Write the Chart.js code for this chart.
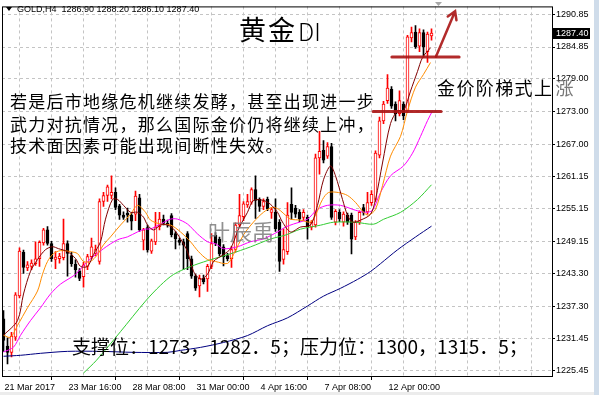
<!DOCTYPE html>
<html lang="zh">
<head>
<meta charset="UTF-8">
<title>GOLD,H4</title>
<script src="https://cdn.jsdelivr.net/npm/chart.js@4.4.0/dist/chart.umd.min.js"></script>
<style>
  html, body { margin: 0; padding: 0; background: #fff; }
  #wrap { position: relative; width: 599px; height: 395px; }
</style>
</head>
<body>
<div id="wrap"><canvas id="chart"></canvas></div>
<script>
// H4 bars, index 0 = 21 Mar 2017 00:00
const openP = [1235.0,1230.0,1228.8,1231.6,1239.2,1247.2,1244.3,1244.6,1245.1,1246.0,
  1248.9,1251.3,1248.8,1245.9,1246.0,1246.2,1248.8,1246.6,1245.0,1243.8,
  1242.7,1244.6,1246.4,1247.0,1245.5,1256.5,1257.6,1257.6,1258.2,1255.7,
  1254.0,1254.4,1254.0,1254.2,1257.2,1249.4,1251.7,1247.4,1249.1,1251.9,
  1253.3,1252.5,1253.9,1250.6,1249.4,1249.1,1250.6,1246.0,1242.8,1241.0,
  1242.4,1242.3,1244.6,1250.3,1249.6,1248.2,1246.6,1246.0,1247.7,1252.2,
  1253.7,1255.9,1256.4,1258.7,1256.9,1255.6,1256.9,1254.5,1254.5,1252.7,
  1245.9,1247.3,1256.0,1255.3,1254.5,1253.6,1253.6,1251.8,1252.2,1264.5,
  1265.9,1264.8,1266.6,1252.7,1254.5,1252.7,1254.0,1254.0,1250.0,1252.7,
  1255.4,1254.6,1256.3,1256.9,1265.0,1271.3,1275.0,1277.1,1274.4,1272.6,
  1274.4,1273.1,1286.5,1287.6,1285.0,1287.5,1284.0,1286.9];
const highP = [1236.5,1231.5,1232.5,1239.8,1248.0,1247.6,1245.5,1245.8,1249.1,1249.3,
  1251.6,1251.9,1249.2,1247.3,1247.0,1253.3,1249.3,1247.2,1245.8,1244.2,
  1245.4,1246.8,1249.8,1248.5,1257.0,1258.2,1259.5,1261.2,1259.0,1256.0,
  1254.6,1255.3,1254.4,1258.4,1257.8,1251.6,1252.2,1249.6,1254.5,1254.5,
  1254.0,1253.1,1254.3,1251.0,1249.8,1249.6,1251.0,1246.5,1243.2,1243.0,
  1243.0,1245.0,1250.6,1250.8,1250.0,1248.6,1247.0,1248.3,1252.6,1257.8,
  1256.5,1257.8,1259.0,1261.2,1257.2,1257.0,1257.3,1255.4,1257.0,1253.2,
  1251.5,1256.3,1259.0,1255.8,1255.0,1255.0,1254.0,1253.0,1265.2,1269.4,
  1267.7,1267.3,1267.2,1255.0,1255.0,1254.6,1254.4,1254.4,1253.0,1254.8,
  1256.0,1258.2,1258.5,1265.8,1272.0,1274.9,1279.8,1277.6,1274.8,1276.8,
  1274.8,1287.0,1288.5,1288.8,1288.2,1288.0,1287.6,1288.2];
const lowP = [1229.0,1226.7,1228.0,1231.0,1238.8,1243.3,1243.8,1244.0,1244.8,1244.6,
  1248.5,1248.5,1245.5,1244.2,1245.2,1245.8,1242.8,1244.6,1242.6,1242.0,
  1240.8,1244.0,1246.0,1246.5,1245.0,1255.6,1256.5,1257.0,1255.0,1253.2,
  1253.2,1252.7,1251.3,1253.0,1251.0,1247.6,1247.2,1247.0,1248.6,1251.3,
  1252.2,1251.8,1250.0,1247.8,1248.5,1244.0,1244.0,1242.4,1240.2,1239.0,
  1241.4,1240.0,1244.2,1248.4,1246.5,1244.7,1245.6,1244.4,1247.2,1251.8,
  1253.0,1255.4,1256.0,1253.4,1254.7,1255.0,1254.8,1253.4,1251.0,1243.7,
  1245.0,1246.8,1253.2,1253.6,1252.8,1253.0,1249.6,1251.3,1251.8,1261.5,
  1263.6,1264.4,1253.2,1252.2,1252.8,1252.0,1252.3,1246.9,1249.5,1252.3,
  1254.0,1254.2,1255.8,1256.5,1264.5,1270.8,1274.5,1273.6,1271.3,1272.2,
  1271.5,1272.8,1285.8,1284.6,1284.0,1283.0,1282.0,1286.1];
const closeP = [1231.0,1228.8,1231.8,1239.4,1247.4,1244.4,1244.9,1245.2,1246.0,1249.0,
  1251.3,1248.8,1246.0,1246.3,1246.5,1248.8,1247.0,1245.1,1244.0,1242.4,
  1244.9,1246.4,1248.2,1247.7,1256.5,1257.6,1259.2,1258.2,1255.4,1254.0,
  1253.6,1254.0,1252.9,1257.5,1251.3,1251.3,1247.6,1249.3,1251.8,1253.3,
  1252.5,1252.2,1250.4,1249.7,1249.0,1248.5,1246.0,1242.8,1240.6,1242.4,
  1241.8,1244.6,1248.8,1248.8,1246.9,1246.4,1246.0,1247.7,1252.2,1253.9,
  1256.1,1256.5,1258.7,1256.7,1255.6,1256.5,1255.2,1255.0,1251.5,1245.5,
  1247.7,1254.0,1254.5,1254.2,1253.3,1254.5,1251.8,1252.7,1264.5,1265.7,
  1264.1,1266.6,1253.6,1254.7,1253.3,1254.2,1252.7,1249.6,1252.7,1254.5,
  1254.5,1256.3,1257.8,1265.4,1271.3,1274.4,1277.3,1274.0,1272.6,1275.0,
  1272.2,1286.7,1287.5,1284.9,1287.5,1284.9,1287.2,1287.4];

// moving averages (bar index / price)
const maFastX = [0,3.5,5,6.75,8.5,10.5,12.25,13.75,16,18,19.25,21,22.5,24.25,25.5,27.25,28.5,30,31.75,33.5,
  35,36,37.5,39.25,41,42.5,44.25,46,47.5,49.25,51,52.5,55,56.75,58.75,61,62.5,65,66.75,68.5,
  69.75,71.75,74.25,76.75,78.5,80,81.75,83,84.75,86,87.25,89.25,91.75,93,94.75,96.75,98.5,100,101.75,103.5,
  104.75,106.75];
const maFastY = [1231.96,1234.66,1239.54,1243.70,1245.86,1247.67,1248.21,1247.85,1247.31,1246.04,
  1244.60,1244.60,1246.77,1249.11,1253.27,1256.88,1256.88,1255.80,1254.53,1254.53,
  1253.63,1252.19,1251.28,1252.19,1252.19,1251.47,1249.66,1247.31,1243.70,1242.25,
  1243.15,1245.50,1246.77,1247.85,1251.46,1254.53,1256.70,1256.70,1255.98,1254.53,
  1252.73,1250.92,1251.82,1252.19,1255.80,1260.50,1263.03,1261.22,1256.88,1253.99,
  1252.73,1253.09,1254.17,1256.88,1263.57,1270.80,1273.14,1273.14,1276.76,1280.37,
  1282.90,1284.71];
const maMidX = [0,1.75,3.5,6,8.5,9.75,11,12.5,14.25,16.75,18.5,20,21.75,23.5,25,26.75,29.25,31.75,33.5,35.5,
  36.75,39.25,41.75,44.25,46.75,48.75,51,53,56,57.5,60,62.5,65,67.25,68.75,70.5,71.75,74.25,76.75,78,
  79.75,81.25,83.75,86,88,90,91.25,93,94.75,96.75,99.25,101,103,105,106.75];
const maMidY = [1231.96,1231.59,1233.76,1237.01,1240.08,1243.15,1245.50,1246.95,1247.49,1247.31,
  1246.95,1245.50,1245.50,1246.77,1248.57,1250.02,1252.19,1254.17,1255.80,1254.53,
  1253.09,1252.37,1252.19,1250.92,1249.12,1247.31,1245.86,1245.50,1245.14,1246.77,
  1250.38,1252.73,1254.53,1255.44,1255.08,1253.99,1253.27,1253.09,1252.73,1253.99,
  1256.88,1258.15,1258.15,1257.61,1256.34,1254.53,1253.99,1255.08,1259.41,1264.83,
  1268.45,1273.14,1277.48,1279.83,1282.00];
const maSlowX = [0,2.5,4.25,6.75,9.25,11.75,14.25,18,21,25,28.5,31,33.5,35.5,36.75,39.25,41.75,43.5,46,48.5,
  51,53,55,58.5,61.75,65,68.5,70.5,72.5,76,78.5,81,84.25,88,90.5,92.25,94.25,96.75,100,102.25,
  104.25,106,107.25];
const maSlowY = [1228.88,1229.79,1231.96,1234.66,1237.01,1239.54,1241.35,1243.15,1245.50,1247.85,
  1249.48,1250.02,1250.92,1251.46,1251.46,1252.37,1253.27,1253.27,1252.37,1250.56,
  1249.12,1248.75,1247.85,1248.21,1249.12,1249.66,1250.92,1251.82,1252.37,1253.27,
  1255.08,1255.80,1255.80,1254.90,1254.53,1254.90,1258.15,1261.22,1263.03,1265.37,
  1268.45,1271.34,1273.14];
const maLongX = [20,23.25,29.25,35.5,39.25,42.5,46.75,51,56.75,61.75,66.75,70.5,74.25,79.25,82.5,88,92.5,95,99.25,103.5,107];
const maLongY = [1225.03,1227.38,1232.63,1238.23,1241.13,1243.12,1244.56,1245.65,1246.91,1248.18,
  1249.62,1250.35,1251.43,1252.16,1252.70,1252.70,1252.34,1253.24,1254.51,1256.86,1259.57];
const maTrendX = [0,4.25,9.25,16,24.25,32.5,41,44.25,49.25,55,61,66,71,76,80,84.25,88.5,91.75,94.25,98.5,103,107];
const maTrendY = [1228.11,1228.29,1228.65,1229.01,1229.01,1228.83,1228.83,1229.19,1229.74,1230.64,
  1231.91,1233.71,1235.16,1237.33,1239.14,1240.58,1242.21,1243.66,1245.10,1247.64,1249.99,1251.98];

const yTicks = [1225.45,1231.45,1237.30,1243.30,1249.15,1255.15,1261.15,1267.00,1273.00,1279.00,1284.85,1290.85];
const xGrid = [0,8,16,24,32,40,48,56,64,72,80,88,96,104,112,120,128,136];
const xLabels = {0:'21 Mar 2017',16:'23 Mar 16:00',32:'28 Mar 08:00',48:'31 Mar 00:00',64:'4 Apr 16:00',80:'7 Apr 08:00',96:'12 Apr 00:00'};

// hand drawn support lines and arrow, in bar index / price
const levelLines = [[97.1, 113.9, 1283.0], [92.4, 109.4, 1273.0]];
const arrowLine = [108.1, 1283.07, 112.9, 1291.4];

const axisFont = { family: 'Liberation Sans, Arial, sans-serif', size: 9 };
const cjk = '"Noto Sans CJK SC", sans-serif';

const bull = openP.map((o, i) => closeP[i] >= o);

function spaced(ctx, text, x, y, step) {
  [...text].forEach((ch, k) => ctx.fillText(ch, x + k * step, y));
}

const overlay = {
  id: 'overlay',
  beforeDraw(chart) {
    const ctx = chart.ctx;
    ctx.save();
    ctx.fillStyle = '#fff';
    ctx.fillRect(0, 0, chart.width, chart.height);
    ctx.restore();
  },
  afterDraw(chart) {
    const ctx = chart.ctx, a = chart.chartArea;
    const xs = chart.scales.x, ys = chart.scales.y;
    ctx.save();

    // frame
    ctx.strokeStyle = '#000';
    ctx.lineWidth = 1;
    ctx.strokeRect(a.left + 0.5, a.top + 0.5, a.right - a.left, a.bottom - a.top);

    // window edges
    ctx.fillStyle = '#cfdcea';
    ctx.fillRect(594, 0, 5, chart.height);
    ctx.fillStyle = '#ececec';
    ctx.fillRect(0, 392, 594, 3);

    // shift marker
    ctx.fillStyle = '#a8a8a8';
    ctx.beginPath();
    ctx.moveTo(435, 2); ctx.lineTo(442, 2); ctx.lineTo(438.5, 6); ctx.closePath();
    ctx.fill();

    // header
    ctx.fillStyle = '#000';
    ctx.beginPath();
    ctx.moveTo(6, 7); ctx.lineTo(12, 7); ctx.lineTo(9, 11); ctx.closePath();
    ctx.fill();
    ctx.font = '9px Liberation Sans, Arial, sans-serif';
    ctx.textBaseline = 'middle';
    ctx.textAlign = 'left';
    ctx.fillText('GOLD,H4  1286.90 1288.20 1286.10 1287.40', 17, 9.5);

    // last price box
    const last = closeP[closeP.length - 1];
    const py = Math.round(ys.getPixelForValue(last));
    ctx.fillStyle = '#000';
    ctx.fillRect(553, py - 5, 37, 11);
    ctx.fillStyle = '#fff';
    ctx.fillText(last.toFixed(2), 556, py + 0.5);

    // support lines + arrow
    ctx.strokeStyle = 'rgba(170,20,20,0.9)';
    ctx.lineCap = 'round';
    ctx.lineWidth = 3;
    levelLines.forEach(([i0, i1, p]) => {
      const yy = ys.getPixelForValue(p);
      ctx.beginPath();
      ctx.moveTo(xs.getPixelForValue(i0), yy);
      ctx.lineTo(xs.getPixelForValue(i1), yy);
      ctx.stroke();
    });
    const ax0 = xs.getPixelForValue(arrowLine[0]), ay0 = ys.getPixelForValue(arrowLine[1]);
    const ax1 = xs.getPixelForValue(arrowLine[2]), ay1 = ys.getPixelForValue(arrowLine[3]);
    ctx.lineWidth = 2.5;
    ctx.beginPath();
    ctx.moveTo(ax0, ay0); ctx.lineTo(ax1, ay1);
    const ang = Math.atan2(ay1 - ay0, ax1 - ax0);
    ctx.moveTo(ax1 - 9 * Math.cos(ang - 0.55), ay1 - 9 * Math.sin(ang - 0.55));
    ctx.lineTo(ax1, ay1);
    ctx.lineTo(ax1 - 9 * Math.cos(ang + 0.55), ay1 - 9 * Math.sin(ang + 0.55));
    ctx.stroke();

    // texts
    ctx.fillStyle = '#000';
    ctx.textBaseline = 'middle';
    ctx.font = '27px ' + cjk;
    ctx.fillText('黄', 239, 30);
    ctx.fillText('金', 268, 30);
    ctx.font = '300 24px ' + cjk;
    ctx.fillText('DI', 298, 32);

    ctx.font = '17px ' + cjk;
    spaced(ctx, '若是后市地缘危机继续发酵，甚至出现进一步', 10, 102, 18.25);
    spaced(ctx, '武力对抗情况，那么国际金价仍将继续上冲，', 10, 125, 18.25);
    spaced(ctx, '技术面因素可能出现间断性失效。', 10, 146, 18.25);

    ctx.font = '18px ' + cjk;
    spaced(ctx, '金价阶梯式上', 437, 88, 19.4);
    ctx.fillStyle = '#777';
    ctx.fillText('涨', 437 + 6 * 19.4 + 2, 88);

    ctx.fillStyle = '#000';
    ctx.font = '19px ' + cjk;
    ctx.fillText('支撑位：1273，1282．5；压力位：1300，1315．5；', 72, 347);

    ctx.fillStyle = 'rgba(125,125,125,0.85)';
    ctx.font = '22px ' + cjk;
    spaced(ctx, '叶辰禹', 208, 232, 22);

    ctx.restore();
  }
};

new Chart(document.getElementById('chart'), {
  type: 'bar',
  data: {
    datasets: [
      { type: 'line', data: maFastX.map((x, k) => ({ x, y: maFastY[k] })), borderColor: '#800000', borderWidth: 1, pointRadius: 0, tension: 0.3, order: 0 },
      { type: 'line', data: maMidX.map((x, k) => ({ x, y: maMidY[k] })), borderColor: '#ff8c00', borderWidth: 1, pointRadius: 0, tension: 0.3, order: 0 },
      { type: 'line', data: maSlowX.map((x, k) => ({ x, y: maSlowY[k] })), borderColor: '#ff00ff', borderWidth: 1, pointRadius: 0, tension: 0.3, order: 0 },
      { type: 'line', data: maLongX.map((x, k) => ({ x, y: maLongY[k] })), borderColor: '#32cd32', borderWidth: 1, pointRadius: 0, tension: 0.3, order: 0 },
      { type: 'line', data: maTrendX.map((x, k) => ({ x, y: maTrendY[k] })), borderColor: '#000080', borderWidth: 1, pointRadius: 0, tension: 0.3, order: 0 },
      {
        data: openP.map((o, i) => ({ x: i, y: [o, closeP[i]] })),
        backgroundColor: bull.map(b => b ? '#ffffff' : '#000000'),
        borderColor: bull.map(b => b ? '#ff0000' : '#000000'),
        borderWidth: 1, borderSkipped: false, barThickness: 3, minBarLength: 1, grouped: false, order: 1
      },
      {
        data: lowP.map((l, i) => ({ x: i, y: [l, highP[i]] })),
        backgroundColor: bull.map(b => b ? '#ff0000' : '#000000'),
        borderWidth: 0, barThickness: 1, grouped: false, order: 2
      }
    ]
  },
  options: {
    responsive: true,
    maintainAspectRatio: false,
    animation: false,
    devicePixelRatio: 1,
    events: [],
    layout: { padding: { left: 2, top: 1, right: 0, bottom: 0 } },
    plugins: { legend: { display: false }, tooltip: { enabled: false } },
    scales: {
      x: {
        type: 'linear', min: -0.375, max: 137.125, offset: false,
        afterBuildTicks: s => { s.ticks = xGrid.map(v => ({ value: v })); },
        afterFit: s => { s.height = 19; },
        ticks: {
          autoSkip: false, maxRotation: 0, minRotation: 0, align: 'start', labelOffset: 1, padding: 2,
          color: '#000', font: axisFont,
          callback: v => xLabels[v] || ''
        },
        grid: {
          color: '#c4c4c4', tickLength: 4,
          tickColor: c => (c.tick && xLabels[c.tick.value]) ? '#000' : 'rgba(0,0,0,0)'
        },
        border: { display: false, dash: [3, 3] }
      },
      y: {
        type: 'linear', position: 'right', min: 1224.49, max: 1292.30,
        afterBuildTicks: s => { s.ticks = yTicks.map(v => ({ value: v })); },
        afterFit: s => { s.width = 47; },
        ticks: { color: '#000', font: axisFont, padding: 1, callback: v => v.toFixed(2) },
        grid: { color: '#c4c4c4', tickColor: '#000', tickLength: 3 },
        border: { display: false, dash: [3, 3] }
      }
    }
  },
  plugins: [overlay]
});
</script>
</body>
</html>
